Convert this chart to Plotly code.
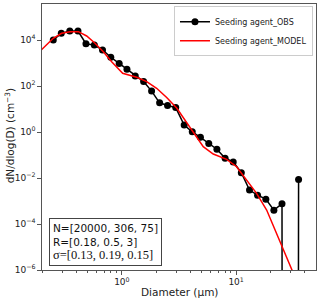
import plotly.graph_objects as go

# ---- Observed size distribution (Seeding agent_OBS) ----
obs_diam = [0.251, 0.295, 0.350, 0.413, 0.485, 0.574, 0.677, 0.800, 0.947, 1.108,
            1.31, 1.55, 1.82, 2.14, 2.51, 2.96, 3.51, 4.13, 4.87, 5.76,
            6.79, 8.01, 9.43, 11.1, 13.1, 15.4, 18.2, 21.4, 25.2, 29.6, 35.2]
obs_dndlogd = [10000, 19500, 24500, 24500, 6900, 6000, 3700, 1780, 955, 537,
               269, 155, 60, 18.6, 14.1, 11.5, 2.0, 1.02, 0.59, 0.32,
               0.178, 0.072, 0.050, 0.017, 0.0030, 0.0018, 0.0012, 0.0004, 0.00076, 0.0, 0.0087]

# ---- Model size distribution (Seeding agent_MODEL) ----
model_diam = [0.174, 0.2, 0.251, 0.297, 0.352, 0.416, 0.492, 0.582, 0.688, 0.814,
              1.016, 1.347, 1.648, 2.016, 2.466, 3.017, 3.565, 4.215, 5.155, 6.306,
              8.26, 10.1, 12.36, 15.1, 18.5, 22.6, 26.7, 31.2, 36.2]
model_dndlogd = [2010, 3950, 11850, 19550, 22950, 22950, 14930, 7190, 3100, 1140,
                 356, 239, 154, 79.4, 31.6, 11.0, 3.32, 0.877, 0.23, 0.110,
                 0.065, 0.031, 0.00818, 0.00216, 0.000406, 3.94e-5, 5.32e-6, 8.4e-7, 1.5e-7]

# ---- Fit parameters shown in text box ----
N_vals = [20000, 306, 75]
R_vals = [0.18, 0.5, 3]
sigma_vals = [0.13, 0.19, 0.15]

# ---- Tick labels ----
y_tick_vals = [1e-6, 1e-4, 1e-2, 1e0, 1e2, 1e4]
y_tick_text = ["10<sup>\u22126</sup>", "10<sup>\u22124</sup>", "10<sup>\u22122</sup>",
               "10<sup>0</sup>", "10<sup>2</sup>", "10<sup>4</sup>"]
x_tick_vals = [1, 10]
x_tick_text = ["10<sup>0</sup>", "10<sup>1</sup>"]
x_minor_vals = [0.2, 0.3, 0.4, 0.5, 0.6, 0.7, 0.8, 0.9,
                2, 3, 4, 5, 6, 7, 8, 9, 20, 30, 40]

# zero counts are clipped to a tiny positive value on the log axis (like matplotlib)
obs_plot = [v if v > 0 else 1e-300 for v in obs_dndlogd]

fig = go.Figure()
fig.add_trace(go.Scatter(
    x=obs_diam, y=obs_plot, mode="lines+markers", name="Seeding agent_OBS",
    line=dict(color="black", width=1.5),
    marker=dict(color="black", size=7),
))
fig.add_trace(go.Scatter(
    x=model_diam, y=model_dndlogd, mode="lines", name="Seeding agent_MODEL",
    line=dict(color="red", width=1.5),
))

font = "DejaVu Sans"
axis_common = dict(showline=True, mirror=True, linecolor="#555", linewidth=1.2,
                   showgrid=False, zeroline=False, ticks="outside", ticklen=3.5,
                   tickwidth=1, tickcolor="#555",
                   tickfont=dict(family=font, size=9, color="#222"))

fig.update_xaxes(type="log", range=[-0.699, 1.699], tickvals=x_tick_vals,
                 ticktext=x_tick_text,
                 minor=dict(tickvals=x_minor_vals, ticks="outside", ticklen=2,
                            tickwidth=0.8, tickcolor="#555"),
                 **axis_common)
fig.update_yaxes(type="log", range=[-6, 5.565], tickvals=y_tick_vals,
                 ticktext=y_tick_text, **axis_common)

box_text = (
    "N=[" + ", ".join(str(v) for v in N_vals) + "]<br>"
    + "R=[" + ", ".join(str(v) for v in R_vals) + "]<br>"
    + "<span style='font-family:Liberation Serif;font-size:12.5px'>\u03c3=["
    + ", ".join(str(v) for v in sigma_vals) + "]</span>"
)

fig.update_layout(
    width=320, height=300,
    margin=dict(l=42, r=4, t=4, b=30),
    plot_bgcolor="white", paper_bgcolor="white",
    font=dict(family=font, color="#222"),
    showlegend=True,
    legend=dict(x=0.989, y=0.992, xanchor="right", yanchor="top",
                bgcolor="white", bordercolor="#ccc", borderwidth=1,
                font=dict(family=font, size=8, color="#222"),
                itemwidth=30, tracegroupgap=0),
    annotations=[
        dict(text="Diameter (\u00b5m)", xref="paper", yref="paper", x=0.5, y=-0.082,
             xanchor="center", yanchor="middle", showarrow=False,
             font=dict(family=font, size=10.5, color="#222")),
        dict(text="dN/dlog(D) (cm<sup>\u22123</sup>)", xref="paper", yref="paper",
             x=-0.118, y=0.505, xanchor="center", yanchor="middle", textangle=-90,
             showarrow=False, font=dict(family=font, size=10.5, color="#222")),
        dict(text=box_text, xref="paper", yref="paper", x=0.0255, y=0.015,
             xanchor="left", yanchor="bottom", align="left", showarrow=False,
             bgcolor="white", bordercolor="#444", borderwidth=1, borderpad=3,
             font=dict(family=font, size=10.5, color="#111")),
    ],
)

fig.write_html("out.html",
               config={"displayModeBar": False},
               post_script="document.body.style.margin='0px';document.body.style.padding='0px';")
